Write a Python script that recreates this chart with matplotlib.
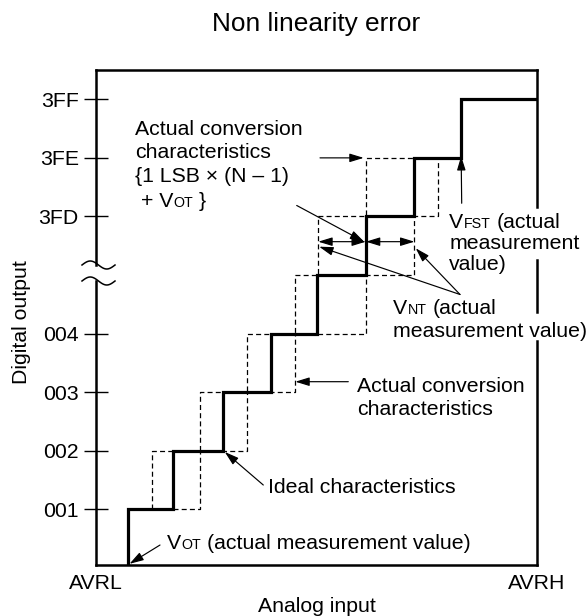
import numpy as np
import matplotlib
matplotlib.use('Agg')
import matplotlib.pyplot as plt

plt.rcParams['font.family'] = ['Liberation Sans', 'DejaVu Sans']
plt.rcParams['lines.scale_dashes'] = False

# ---------------- data ----------------
code_labels = ['001', '002', '003', '004', '3FD', '3FE', '3FF']
code_levels = [1, 2, 3, 4, 6, 7, 8]
# x position (0 = AVRL, 100 = AVRH) where the thick characteristic steps up one code
actual_steps = [7.3, 17.5, 28.9, 39.7, 50.2, 61.2, 72.2, 82.8]
# dashed staircases (left / right bounds), steps from code 1 -> 7
dashed_left = [12.6, 23.6, 34.2, 45.1, 50.4, 61.2]
dashed_right = [23.6, 34.2, 45.1, 61.2, 72.2, 77.6]
x_labels = ['AVRL', 'AVRH']
x_range = [0, 100]

# ---------------- figure ----------------
W, H = 586, 616
fig = plt.figure(figsize=(W / 100, H / 100), dpi=100)
AX_L, AX_R, AX_T, AX_B = 96, 537, 70, 565
ax = fig.add_axes([AX_L / W, 1 - AX_B / H, (AX_R - AX_L) / W, (AX_B - AX_T) / H])
ax.set_xlim(x_range[0], x_range[1])
ax.set_ylim(0.05, 8.5)

FS = 15.3
SMALL = 10.3
SPW = 1.8

def px2x(px):
    return (px - AX_L) / (AX_R - AX_L) * (x_range[1] - x_range[0]) + x_range[0]

def px2y(py):
    return (567.9 - py) / 58.57

# thick staircase
tx = list(np.repeat(actual_steps, 2)) + [x_range[1]]
ty = []
for k in range(len(actual_steps)):
    ty += [k, k + 1]
ty += [len(actual_steps)]
ax.plot(tx, ty, color='black', lw=2.3, solid_joinstyle='miter', zorder=4)

# dashed left staircase
lx = list(np.repeat(dashed_left, 2)) + [actual_steps[6]]
ly = []
for k in range(len(dashed_left)):
    ly += [k + 1, k + 2]
ly += [len(dashed_left) + 1]
ax.plot(lx, ly, color='black', lw=0.9, dashes=(3.6, 2.3), zorder=3)

# dashed right staircase
rx = [actual_steps[1]] + list(np.repeat(dashed_right, 2))
ry = [1]
for k in range(len(dashed_right)):
    ry += [k + 1, k + 2]
ax.plot(rx, ry, color='black', lw=0.9, dashes=(3.6, 2.3), zorder=3)

# spines
for s in ['left', 'right']:
    ax.spines[s].set_visible(False)
for s in ['top', 'bottom']:
    ax.spines[s].set_linewidth(SPW)

def yfrac(py):
    return (AX_B - py) / (AX_B - AX_T)

def vseg(xf, p0, p1):
    ax.plot([xf, xf], [yfrac(p0), yfrac(p1)], transform=ax.transAxes, color='black',
            lw=SPW, clip_on=False, solid_capstyle='projecting', zorder=5)

vseg(1, 70, 206.7)
vseg(1, 260, 311.7)
vseg(1, 340.7, 565)
vseg(0, 70, 265)
vseg(0, 281, 565)

# break (tilde) marks on left axis
for py in [265, 281]:
    xs_px = np.linspace(82, 115, 60)
    ys_px = py - 4 * np.sin(2 * np.pi * (xs_px - 82) / 33)
    ax.plot((xs_px - AX_L) / (AX_R - AX_L), yfrac(ys_px), transform=ax.transAxes,
            color='black', lw=1.1, clip_on=False, zorder=5)

# ticks
ax.set_yticks(code_levels, code_labels)
ax.tick_params(axis='y', direction='inout', length=17, width=1.0, pad=4, labelsize=FS)
ax.set_xticks(x_range, x_labels)
ax.tick_params(axis='x', length=0, pad=6.5, labelsize=FS)

# titles / axis labels
fig.text(316 / W, 1 - 30.7 / H, 'Non linearity error', fontsize=18.9, ha='center', va='baseline')
fig.text(317 / W, 1 - 611.7 / H, 'Analog input', fontsize=FS, ha='center', va='baseline')
fig.text(21.5 / W, 1 - 322 / H, 'Digital output', fontsize=FS, ha='center', va='center', rotation=90)

# rich text helper
renderer = fig.canvas.get_renderer()

def run_width(s, size):
    if s == '':
        return 0.0
    t1 = fig.text(0, 0, '|' + s + '|', fontsize=size)
    t2 = fig.text(0, 0, '||', fontsize=size)
    w = t1.get_window_extent(renderer).width - t2.get_window_extent(renderer).width
    t1.remove()
    t2.remove()
    return w

def rich_line(x_px, y_px, runs):
    x = x_px
    for s, size in runs:
        lead = len(s) - len(s.lstrip())
        xd = x + run_width(s[:lead], size)
        fig.text(xd / W, 1 - y_px / H, s.strip(), fontsize=size, ha='left', va='baseline', zorder=6)
        x += run_width(s, size)

rich_line(135, 135, [('Actual conversion', FS)])
rich_line(135, 158.3, [('characteristics', FS)])
rich_line(135, 181.7, [('{1 LSB \u00d7 (N \u2013 1)', FS)])
rich_line(135, 207, [(' + V', FS), ('OT', SMALL), (' }', FS)])

rich_line(449.3, 228, [('V', FS), ('FST', SMALL), (' (actual', FS)])
rich_line(449.3, 249, [('measurement', FS)])
rich_line(449.3, 270, [('value)', FS)])

rich_line(393.3, 314, [('V', FS), ('NT', SMALL), (' (actual', FS)])
rich_line(393.3, 337.3, [('measurement value)', FS)])

rich_line(357.3, 391.7, [('Actual conversion', FS)])
rich_line(357.3, 415.3, [('characteristics', FS)])

rich_line(268.3, 492.7, [('Ideal characteristics', FS)])

rich_line(167.3, 549, [('V', FS), ('OT', SMALL), (' (actual measurement value)', FS)])

# arrows
AP = dict(arrowstyle='-|>,head_length=0.85,head_width=0.26', color='black', lw=0.85,
          shrinkA=0, shrinkB=0, mutation_scale=10)
AP2 = dict(AP, arrowstyle='<|-|>,head_length=0.85,head_width=0.26')
LN = dict(arrowstyle='-', color='black', lw=0.85, shrinkA=0, shrinkB=0)

def arrow(x0, y0, x1, y1, props=AP):
    ax.annotate('', xy=(x1, y1), xytext=(x0, y0), arrowprops=props,
                annotation_clip=False, zorder=6)

# to dashed box corner (top)
arrow(px2x(320), 7.0, dashed_left[5] - 0.5, 7.0)
# double arrows (non-linearity width)
y_nt = px2y(241.7)
arrow(dashed_left[4], y_nt, actual_steps[5], y_nt, AP2)
arrow(actual_steps[5], y_nt, dashed_right[4], y_nt, AP2)
# from upper text block to thick step
arrow(px2x(296.7), px2y(205.5), actual_steps[5] - 0.4, y_nt)
# VNT leader lines
arrow(px2x(460), px2y(294.5), dashed_left[4] + 0.2, px2y(246.7))
arrow(px2x(460), px2y(294.5), dashed_right[4] + 0.3, px2y(248.3))
# VFST
arrow(px2x(461.7), px2y(203.3), actual_steps[7], 7.0 + 0.03)
# lower actual conversion characteristics
arrow(px2x(348.3), px2y(381.7), dashed_right[2] + 0.1, px2y(381.7))
# ideal characteristics
arrow(px2x(263.3), px2y(485), actual_steps[2] + 0.3, 2.0 - 0.02)
# VOT
arrow(px2x(160), px2y(545), actual_steps[0] + 0.3, 0.07)

fig.savefig('out.png', dpi=100)
